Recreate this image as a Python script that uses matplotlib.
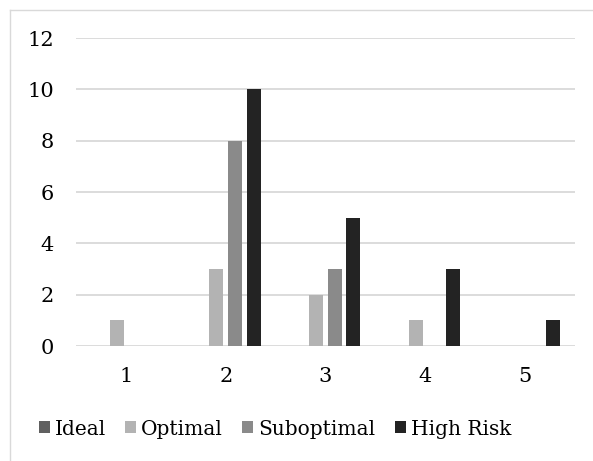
import matplotlib
matplotlib.use("Agg")
import matplotlib.pyplot as plt
from matplotlib.lines import Line2D
from matplotlib.patches import Patch
import numpy as np

categories = ["1", "2", "3", "4", "5"]
series_names = ["Ideal", "Optimal", "Suboptimal", "High Risk"]
ideal = [0, 0, 0, 0, 0]
optimal = [1, 3, 2, 1, 0]
suboptimal = [0, 8, 3, 0, 0]
high_risk = [0, 10, 5, 3, 1]
colors = ["#606060", "#b3b3b3", "#8a8a8a", "#232323"]

plt.rcParams['font.family'] = ['DejaVu Serif']

W, H = 593, 461
fig = plt.figure(figsize=(W / 100, H / 100), dpi=100)

# chart area border (top and left visible)
fig.add_artist(Line2D([10 / W, 10 / W], [0, 1 - 10 / H], color="#d9d9d9", lw=1.0))
fig.add_artist(Line2D([10 / W, 1], [1 - 10 / H, 1 - 10 / H], color="#d9d9d9", lw=1.0))

ax = fig.add_axes([76 / W, 1 - 346 / H, (575 - 76) / W, (346 - 38) / H])

x = np.arange(len(categories))
slot = 0.186
bw = 0.141
data = [ideal, optimal, suboptimal, high_risk]
for j, (vals, c) in enumerate(zip(data, colors)):
    ax.bar(x + (j - 1.5) * slot, vals, width=bw, color=c, zorder=3)

ax.set_xlim(-0.5, len(categories) - 0.5)
ax.set_ylim(0, 12)
ax.set_yticks(range(0, 13, 2))
ax.set_xticks(x)
ax.set_xticklabels(categories)
ax.yaxis.grid(True, color="#d9d9d9", lw=1.3, zorder=0)
ax.set_axisbelow(True)
for s in ax.spines.values():
    s.set_visible(False)
ax.tick_params(axis="both", length=0, labelsize=15, colors="#000000")
ax.tick_params(axis="y", pad=16)
ax.tick_params(axis="x", pad=15)

handles = [Patch(facecolor=c, edgecolor="none") for c in colors]
fig.legend(handles, series_names, loc="center", bbox_to_anchor=(275 / W, 1 - 429 / H),
           ncol=4, frameon=False, fontsize=14.5, handlelength=0.55, handleheight=0.55,
           handletextpad=0.25, columnspacing=0.95, borderpad=0)

fig.savefig("out.png", dpi=100, facecolor="white")
